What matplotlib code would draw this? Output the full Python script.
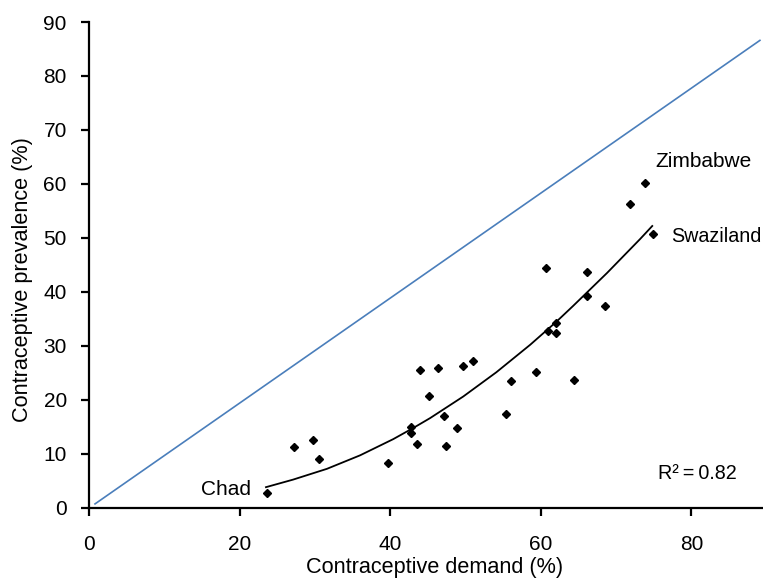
# %% Imports
import matplotlib

matplotlib.use("Agg")
import matplotlib.pyplot as plt

# %% Data
demand = [
    23.6, 27.2, 29.7, 30.5, 39.7, 42.8, 42.8, 43.6, 44.0, 45.2,
    46.3, 47.2, 47.4, 48.9, 49.7, 51.0, 55.4, 56.0, 59.4, 60.9,
    62.0, 62.0, 64.4, 60.7, 66.1, 66.1, 68.5, 71.8, 73.9, 74.9,
]
prevalence = [
    2.8, 11.2, 12.5, 9.1, 8.3, 15.0, 13.8, 11.8, 25.5, 20.7,
    25.9, 17.0, 11.5, 14.8, 26.3, 27.2, 17.4, 23.5, 25.2, 32.7,
    34.2, 32.4, 23.7, 44.4, 43.7, 39.3, 37.4, 56.3, 60.2, 50.7,
]
# trendline as drawn in the chart
trend_x = [23.5, 27.1, 31.6, 36.0, 40.4, 43.1, 45.3, 49.7, 54.1, 58.6, 62.1, 64.3, 68.8, 73.2, 74.8]
trend_y = [3.8, 5.2, 7.2, 9.7, 12.7, 14.8, 16.6, 20.6, 25.1, 30.2, 34.5, 37.4, 43.5, 49.8, 52.2]
# reference line ends
ref_x = [0.8, 89.1]
ref_y = [0.7, 86.6]

x_ticks = [0, 20, 40, 60, 80]
y_ticks = [0, 10, 20, 30, 40, 50, 60, 70, 80, 90]

plt.rcParams["font.family"] = ["Liberation Sans", "DejaVu Sans"]
FS = 15
FS_LABEL = 15.6

# %% Plot
fig = plt.figure(figsize=(7.63, 5.81), dpi=100)
ax = fig.add_axes([89 / 763, 0.1262, 766.7 / 763 - 89 / 763, 0.9621 - 0.1262])

ax.plot(ref_x, ref_y, color="#4a7ebb", lw=1.2)
ax.plot(trend_x, trend_y, color="black", lw=1.3)
ax.plot(demand, prevalence, "D", color="black", ms=4.2, ls="none")

ax.text(75.2, 64.1, "Zimbabwe", fontsize=FS, va="center", ha="left")
ax.text(77.3, 50.2, "Swaziland", fontsize=14.2, va="center", ha="left")
ax.text(21.5, 3.3, "Chad", fontsize=FS, va="center", ha="right")
ax.text(75.5, 6.4, "R²\u2009=\u20090.82", fontsize=14.2, va="center", ha="left")

ax.set_xlim(0, 90)
ax.set_ylim(0, 90)
ax.set_xticks(x_ticks)
ax.set_yticks(y_ticks)
ax.spines["top"].set_visible(False)
ax.spines["right"].set_visible(False)
ax.spines["left"].set_linewidth(1.6)
ax.spines["bottom"].set_linewidth(1.6)
ax.tick_params(axis="both", direction="out", length=6, width=1.6, labelsize=FS)
ax.tick_params(axis="y", pad=10)
ax.tick_params(axis="x", pad=14)

ax.set_xlabel("Contraceptive demand (%)", fontsize=FS_LABEL)
ax.set_ylabel("Contraceptive prevalence (%)", fontsize=FS_LABEL)
ax.xaxis.set_label_coords(0.5098, -0.102)
ax.yaxis.set_label_coords(-0.0826, 0.469)

fig.savefig("out.png", dpi=100)
